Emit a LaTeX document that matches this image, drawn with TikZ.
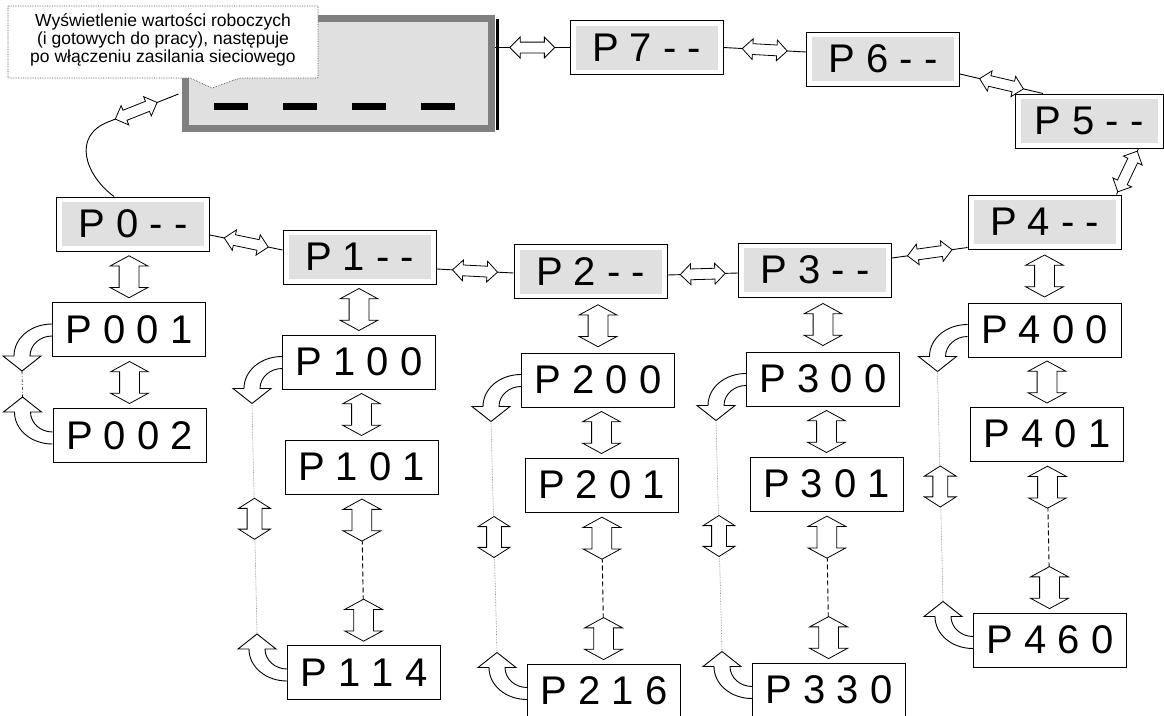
\documentclass[tikz,border=0pt]{standalone}
\usepackage{fontspec}
\setmainfont{Liberation Sans}
\usetikzlibrary{calc,shapes.arrows}
\definecolor{lcdgray}{RGB}{224,224,224}
\definecolor{bevelgray}{RGB}{128,128,128}

\begin{document}
\begin{tikzpicture}[x=1pt,y=-1pt,line width=0.9pt,
	mainbox/.style={draw,line width=1pt,fill=white,minimum width=153pt,minimum height=54pt,inner sep=0pt,
		font=\fontsize{40}{40}\selectfont,
		path picture={\fill[lcdgray] ([shift={(5.5pt,5pt)}]path picture bounding box.south west)
			rectangle ([shift={(-5.5pt,-5pt)}]path picture bounding box.north east);}},
	subbox/.style={draw,line width=1pt,fill=white,minimum width=153pt,minimum height=54pt,inner sep=0pt,
		font=\fontsize{40}{40}\selectfont},
	harr/.style={double arrow,draw=black,solid,fill=white,sloped,line width=0.8pt,minimum height=45pt,
		inner xsep=0pt,inner ysep=5pt,text height=0pt,text depth=0pt,
		double arrow head extend=5pt,double arrow tip angle=90},
	varr/.style={double arrow,draw=black,solid,fill=white,rotate=90,line width=0.8pt,minimum height=42pt,
		inner xsep=0pt,inner ysep=9.5pt,text height=0pt,text depth=0pt,
		double arrow head extend=9pt,double arrow tip angle=123},
	sarr/.style={varr,minimum height=41pt,inner ysep=7pt,double arrow head extend=8.5pt,double arrow tip angle=115},
	blk/.style={draw,fill=white,line width=0.9pt},
	dashline/.style={dash pattern=on 5pt off 3pt,line width=0.9pt,shorten <=21pt,shorten >=21pt},
	dotline/.style={densely dotted,draw=black!55,line width=0.6pt},
	callout/.style={densely dotted,draw=black!70,fill=white,line width=0.7pt},
	uturn/.pic={
		\draw[blk] (0,0) .. controls (-21,0) and (-38,14) .. (-38,32) -- (-49,32) -- (-30,47)
			-- (-11,32) -- (-22,32) .. controls (-22,21) and (-12,12) .. (0,12);
		\coordinate (-tip) at (-30,47);}
	]
	\useasboundingbox (0,0) rectangle (1164,715);

	% wyswietlacz
	\node[draw=bevelgray,line width=7pt,fill=lcdgray,minimum width=306pt,minimum height=110pt] (disp) at (338.5,73.5) {};
	\draw[line width=3pt] ([shift={(2pt,-4pt)}]disp.north east) -- ([shift={(2pt,2pt)}]disp.south east);
	\foreach \i in {0,...,3}
		\fill ($(disp.center)+(-124.5+69*\i,29.5)$) rectangle +(34,6.5);

	% dymek z opisem
	\draw[callout] (8,6) -- (318,6) -- (318,78) -- (240,78) -- (212,88) -- (190,78) -- (8,78) -- cycle;
	\node[align=center,font=\fontsize{17.5}{18.3}\selectfont] (note) at (163,40)
		{Wyświetlenie wartości roboczych\\(i gotowych do pracy), następuje\\po włączeniu zasilania sieciowego};

	% grupy parametrow
	\node[mainbox] (P0) at (133,224) {P 0 - -};
	\node[mainbox] (P1) at (359.5,257) {P 1 - -};
	\node[mainbox] (P2) at (590.5,271.5) {P 2 - -};
	\node[mainbox] (P3) at (815,270) {P 3 - -};
	\node[mainbox] (P4) at (1044.5,222) {P 4 - -};
	\node[mainbox,minimum width=148pt] (P5) at (1089,121) {P 5 - -};
	\node[mainbox] (P6) at (883,59) {P 6 - -};
	\node[mainbox] (P7) at (646.5,47.5) {P 7 - -};

	% parametry
	\node[subbox] (P001) at (129,329.5) {P 0 0 1};
	\node[subbox] (P002) at (129.5,435.5) {P 0 0 2};
	\node[subbox] (P100) at (359,362) {P 1 0 0};
	\node[subbox] (P101) at (361.5,467) {P 1 0 1};
	\node[subbox] (P114) at (364,672.5) {P 1 1 4};
	\node[subbox] (P200) at (598,380) {P 2 0 0};
	\node[subbox] (P201) at (601.5,485) {P 2 0 1};
	\node[subbox] (P216) at (604,691) {P 2 1 6};
	\node[subbox] (P300) at (823,379) {P 3 0 0};
	\node[subbox] (P301) at (826.5,484) {P 3 0 1};
	\node[subbox] (P330) at (829,690) {P 3 3 0};
	\node[subbox] (P400) at (1044.5,330) {P 4 0 0};
	\node[subbox] (P401) at (1047,434) {P 4 0 1};
	\node[subbox] (P460) at (1050,640) {P 4 6 0};

	% przejscia miedzy grupami
	\draw ([shift={(-3.5pt,-20.5pt)}]disp.west) -- node[harr,pos=0.6]{} (108,122)
		.. controls (72,136) and (85,175) .. ([xshift=-19pt]P0.north);
	\draw ([yshift=-11pt]P0.east) -- node[harr]{} ([yshift=7pt]P1.west);
	\draw ([yshift=-12pt]P1.east) -- node[harr]{} ([yshift=-1.5pt]P2.west);
	\draw ([yshift=-3.5pt]P2.east) -- node[harr]{} ([yshift=-3pt]P3.west);
	\draw ([yshift=12pt]P3.east) -- node[harr]{} ([yshift=2pt]P4.south west);
	\draw ([xshift=-5pt]P4.north east) -- node[harr]{} ([xshift=-25pt]P5.south east);
	\draw ([xshift=-46pt]P5.north) -- node[harr]{} ([yshift=-15pt]P6.east);
	\draw ([yshift=7pt]P6.west) -- node[harr]{} (P7.east);
	\draw (P7.west) -- node[harr]{} (P7.west -| disp.east);

	% przejscia w dol
	\foreach \a/\b in {P0/P001,P001/P002,P1/P100,P100/P101,P2/P200,P200/P201,P3/P300,P300/P301,P4/P400,P400/P401}
		\path (\b.north) -- node[varr]{} (\b.north |- \a.south);
	\foreach \a/\b in {P101/P114,P201/P216,P301/P330,P401/P460}
		\draw[dashline] (\a.south) -- node[varr,pos=.17]{} node[varr,pos=.835]{} (\b.north);

	% powroty
	\foreach \n/\a/\b in {0/P001/P002,1/P100/P114,2/P200/P216,3/P300/P330,4/P400/P460}{
		\pic (d\n) at ([yshift=-22pt]\a.north west) {uturn};
		\pic[yscale=-1] (u\n) at ([yshift=-36pt]\b.north west) {uturn};
	}
	\draw[dashdotted,line width=0.6pt] (d0-tip) -- (u0-tip);
	\foreach \n in {1,...,4}
		\draw[dotline] (d\n-tip) -- node[sarr]{} (u\n-tip);
\end{tikzpicture}
\end{document}
